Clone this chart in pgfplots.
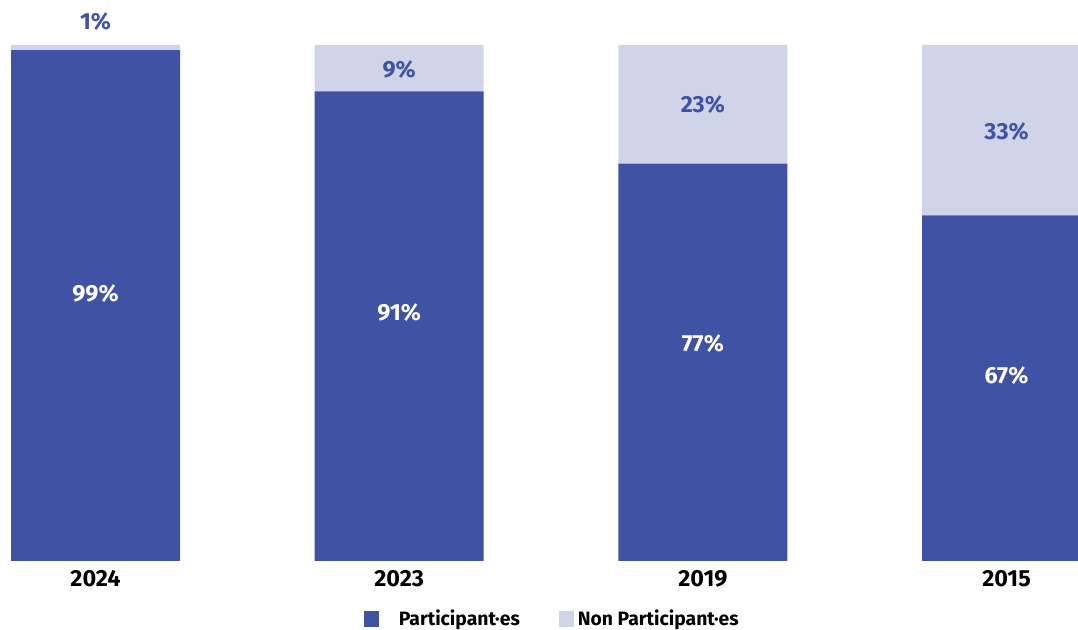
\documentclass[border=0pt]{standalone}
\usepackage{pgfplots}
\pgfplotsset{compat=1.18}
\usepackage{fontspec}
\setmainfont{Fira Sans}
\definecolor{dark}{HTML}{4052A3}
\definecolor{light}{HTML}{CFD4E8}
\begin{document}
\begin{tikzpicture}[x=1pt,y=1pt]
\begin{axis}[
  scale only axis,
  width=808.5pt, height=387pt,
  ybar stacked, bar width=126.75pt,
  xmin=-0.3145, xmax=3.2354, ymin=0, ymax=100,
  axis lines=none,
  clip mode=individual,
  xtick=\empty, ytick=\empty,
  legend columns=2,
  legend style={draw=none, at={(rel axis cs:0.5125,-0.1124)}, anchor=center,
    font=\fontsize{14.5}{16}\selectfont\bfseries,
    /tikz/every even column/.append style={column sep=27pt}},
  legend image code/.code={\fill[#1] (0pt,-5.75pt) rectangle (11.5pt,5.75pt);},
]
\addplot[fill=dark, draw=none] coordinates {(0,99) (1,91) (2,77) (3,67)};
\addplot[fill=light, draw=none] coordinates {(0,1) (1,9) (2,23) (3,33)};
\legend{\hspace{13pt}Participant·es,\hspace{1pt}Non Participant·es}
\end{axis}
% separate unstacked axis for labels and tick labels
\begin{axis}[
  scale only axis,
  width=808.5pt, height=387pt,
  xmin=-0.3145, xmax=3.2354, ymin=0, ymax=100,
  axis lines=none,
  clip=false,
]
\addplot[only marks, mark=none, nodes near coords, point meta=explicit symbolic,
  nodes near coords style={anchor=center, text=white, font=\fontsize{17.5}{19}\selectfont\bfseries}]
  coordinates {(0,51.9)[99\%] (1,48.1)[91\%] (2,42.1)[77\%] (3,35.9)[67\%]};
\addplot[only marks, mark=none, nodes near coords, point meta=explicit symbolic,
  nodes near coords style={anchor=center, text=dark, font=\fontsize{17.5}{19}\selectfont\bfseries}]
  coordinates {(0,104.5)[1\%] (1,95.2)[9\%] (2,88.4)[23\%] (3,83.3)[33\%]};
\addplot[only marks, mark=none, nodes near coords, point meta=explicit symbolic,
  nodes near coords style={anchor=center, text=black, font=\fontsize{17.5}{19}\selectfont\bfseries}]
  coordinates {(0,-3.4)[2024] (1,-3.4)[2023] (2,-3.4)[2019] (3,-3.4)[2015]};
\coordinate (bl) at (rel axis cs:0,-0.1337);
\coordinate (tr) at (rel axis cs:1,1.0872);
\end{axis}
\pgfresetboundingbox
\useasboundingbox (bl) rectangle (tr);
\end{tikzpicture}
\end{document}
